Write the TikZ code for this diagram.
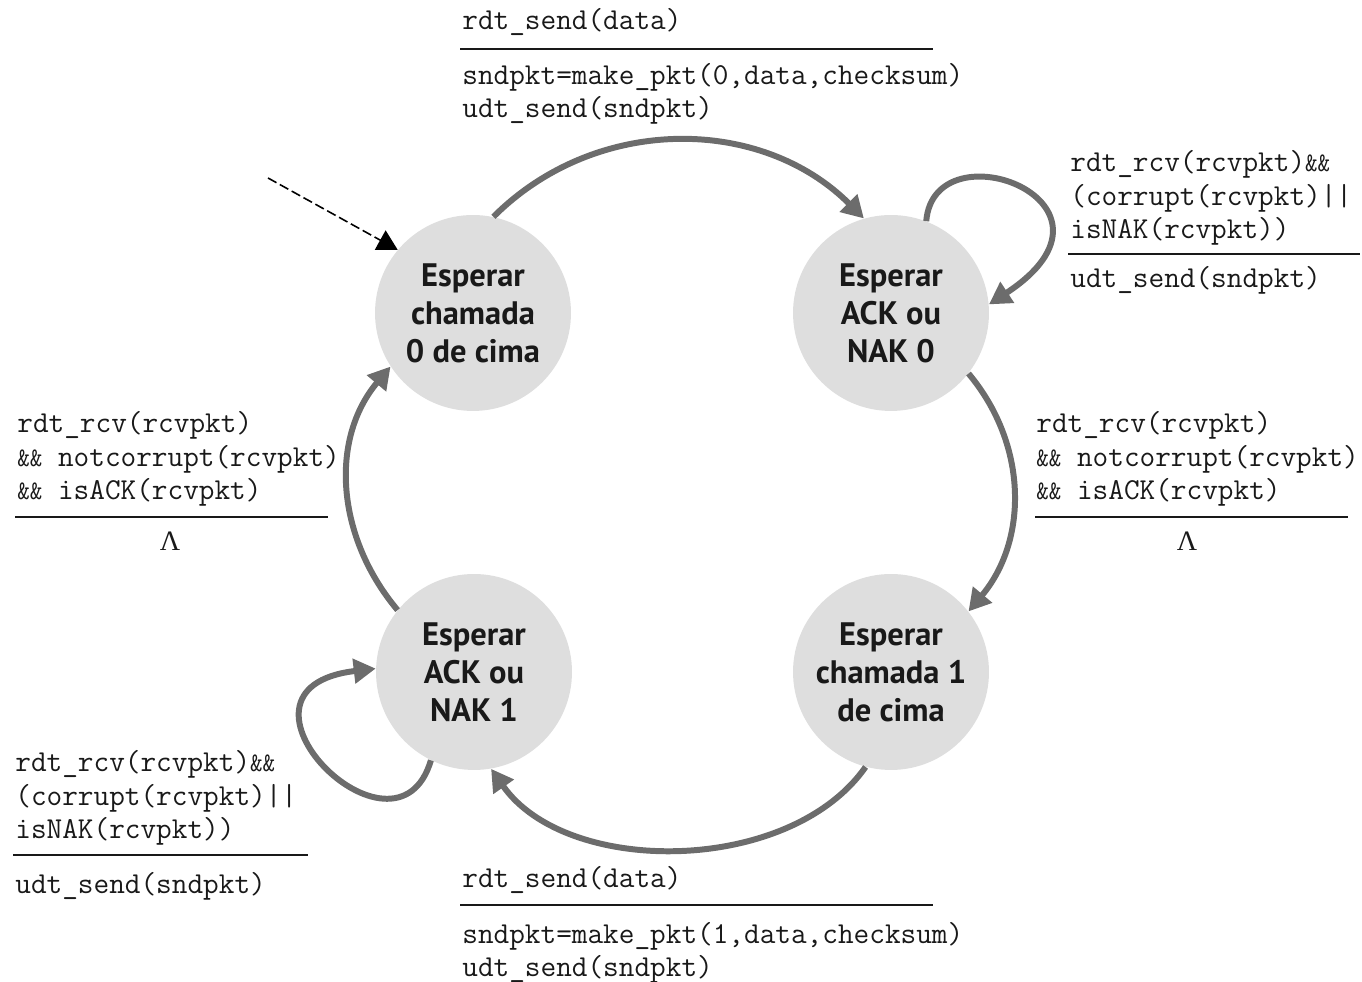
\documentclass[tikz,border=0pt]{standalone}
\usepackage{fontspec}
\usepackage{graphicx}
\newfontfamily\statefont{PT Sans}
\newfontfamily\greekfont{Liberation Serif}
\usetikzlibrary{arrows.meta}
\definecolor{statefill}{RGB}{222,222,222}
\definecolor{edgegray}{RGB}{108,108,108}
\definecolor{ink}{RGB}{25,25,25}
% the logical "and" is set narrower than the other characters
\newcommand\andand{\scalebox{0.8}[0.88]{\&\&}}
\begin{document}
\begin{tikzpicture}[x=0.02cm,y=0.02cm,
  state/.style={circle, fill=statefill, minimum size=3.92cm, inner sep=0pt,
    align=center, text=ink, font=\statefont\bfseries\fontsize{18.5}{21.6}\selectfont},
  edge/.style={draw=edgegray, line width=3.4pt,
    -{Triangle[length=0.44cm,width=0.48cm]}},
  initarrow/.style={draw=black, line width=0.9pt, dash pattern=on 5.5pt off 2.2pt,
    -{Triangle[length=0.4cm,width=0.44cm]}},
  % multi-line code nodes are placed by the baseline of their last line
  code/.style={anchor=base west, inner sep=0pt, align=left, text=ink,
    font=\ttfamily\fontsize{17.3}{19.2}\selectfont},
  lam/.style={inner sep=0pt, text=ink, font=\greekfont\fontsize{16}{16}\selectfont},
  rule/.style={draw=ink, line width=0.8pt},
]
\useasboundingbox (0,0) rectangle (1362,982);

% states
\node[state] (s0) at (473,669) {Esperar\\chamada\\0 de cima};
\node[state] (s1) at (891,669) {Esperar\\ACK ou\\NAK 0};
\node[state] (s2) at (891,310) {Esperar\\chamada 1\\de cima};
\node[state] (s3) at (474,310) {Esperar\\ACK ou\\NAK 1};

% initial transition
\coordinate (init) at (268,804);
\draw[initarrow] (init) -- (s0.140);

% transitions around the ring
\draw[edge] (s0.78) to[out=45,in=135] (s1.106);
\draw[edge] (s1.-38) to[out=-50,in=50] (s2.38);
\draw[edge] (s2.-105) to[out=-125,in=-55,looseness=0.9] (s3.-80);
\draw[edge] (s3.141) to[out=130,in=-130] (s0.213);

% self loops
\draw[edge] (s1.69) .. controls +(8,97) and +(155,102) .. (s1.5);
\draw[edge] (s3.-116) .. controls +(-35,-118) and +(-170,-20) .. (s3.178);

% label: state 0 -> ACK/NAK 0
\node[code] (c01) at (462,952) {rdt\_send(data)};
\draw[rule] (460,933) -- (933,933);
\node[code] (a01) at (462,864) {sndpkt=make\_pkt(0,data,checksum)\\udt\_send(sndpkt)};

% label: ACK/NAK 0 self loop
\node[code] (c11) at (1070,743) {rdt\_rcv(rcvpkt)\andand\\(corrupt(rcvpkt)||\\isNAK(rcvpkt))};
\draw[rule] (1068,728) -- (1360,728);
\node[code] (a11) at (1070,694) {udt\_send(sndpkt)};

% label: ACK/NAK 0 -> state 1
\node[code] (c12) at (1036,482) {rdt\_rcv(rcvpkt)\\\andand{} notcorrupt(rcvpkt)\\\andand{} isACK(rcvpkt)};
\draw[rule] (1035,465) -- (1348,465);
\node[lam] (a12) at (1187,441) {Λ};

% label: ACK/NAK 1 -> state 0
\node[code] (c30) at (17,482) {rdt\_rcv(rcvpkt)\\\andand{} notcorrupt(rcvpkt)\\\andand{} isACK(rcvpkt)};
\draw[rule] (15,465) -- (328,465);
\node[lam] (a30) at (170,441) {Λ};

% label: ACK/NAK 1 self loop
\node[code] (c33) at (15,143) {rdt\_rcv(rcvpkt)\andand\\(corrupt(rcvpkt)||\\isNAK(rcvpkt))};
\draw[rule] (13,127) -- (308,127);
\node[code] (a33) at (15,88) {udt\_send(sndpkt)};

% label: state 1 -> ACK/NAK 1
\node[code] (c23) at (462,94) {rdt\_send(data)};
\draw[rule] (460,77) -- (933,77);
\node[code] (a23) at (462,5) {sndpkt=make\_pkt(1,data,checksum)\\udt\_send(sndpkt)};
\end{tikzpicture}
\end{document}
